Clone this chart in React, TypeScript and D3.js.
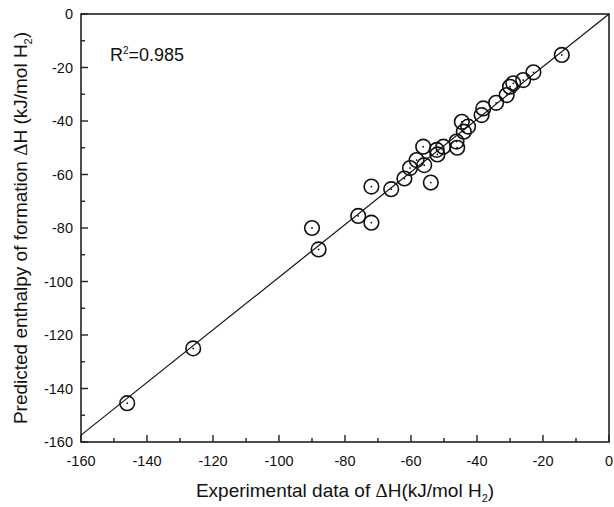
import React from "react";
import * as d3 from "d3";

const expValues = [-146, -126, -90, -88, -76, -72, -72, -66, -62, -60.3, -58.3, -56.3, -56, -54, -52.2, -52, -50.2, -46.2, -46, -44.6, -44, -42.7, -38.6, -38.1, -34.2, -31, -30, -29, -26, -22.9, -14.3];
const predValues = [-145.5, -125, -80, -88, -75.5, -78, -64.5, -65.5, -61.5, -57.6, -54.6, -49.6, -56.5, -63, -50.8, -52.5, -49.6, -47.7, -50, -40.3, -44, -42.1, -37.8, -35.3, -33.2, -30.3, -27.2, -25.9, -24.7, -21.8, -15.3];
const xTicks = [-160, -140, -120, -100, -80, -60, -40, -20, 0];
const yTicks = [0, -20, -40, -60, -80, -100, -120, -140, -160];
const fitSlope = 0.984;
const fitIntercept = 0;
const r2Label = "0.985";

const W = 614, H = 507;
const M = { left: 81, right: 5, top: 14, bottom: 65 };

export default function App() {
  const x = d3.scaleLinear().domain([-160, 0]).range([M.left, W - M.right]);
  const y = d3.scaleLinear().domain([-160, 0]).range([H - M.bottom, M.top]);
  const minorX = d3.range(-150, 0, 20);
  const minorY = d3.range(-150, 0, 20);
  const font = "'Liberation Sans', Arial, sans-serif";
  const x0 = -160, x1 = 0;
  return (
    <svg width={W} height={H} style={{ position: "absolute", left: 0, top: 0, background: "#fff" }} fontFamily={font}>
      <rect x={x(-160)} y={y(0)} width={x(0) - x(-160)} height={y(-160) - y(0)} fill="none" stroke="#222" strokeWidth={1.6} />
      {xTicks.map((t) => (
        <g key={"xt" + t}>
          <line x1={x(t)} x2={x(t)} y1={y(-160)} y2={y(-160) - 7} stroke="#222" strokeWidth={1.4} />
          <text x={x(t)} y={y(-160) + 24} textAnchor="middle" fontSize={14.5} fill="#111">{t}</text>
        </g>
      ))}
      {minorX.map((t) => (
        <line key={"xm" + t} x1={x(t)} x2={x(t)} y1={y(-160)} y2={y(-160) - 4} stroke="#222" strokeWidth={1.4} />
      ))}
      {yTicks.map((t) => (
        <g key={"yt" + t}>
          <line x1={x(-160)} x2={x(-160) + 7} y1={y(t)} y2={y(t)} stroke="#222" strokeWidth={1.4} />
          <text x={x(-160) - 8} y={y(t) + 5} textAnchor="end" fontSize={14.5} fill="#111">{t}</text>
        </g>
      ))}
      {minorY.map((t) => (
        <line key={"ym" + t} x1={x(-160)} x2={x(-160) + 4} y1={y(t)} y2={y(t)} stroke="#222" strokeWidth={1.4} />
      ))}
      <line x1={x(x0)} y1={y(fitSlope * x0 + fitIntercept)} x2={x(x1)} y2={y(fitSlope * x1 + fitIntercept)} stroke="#111" strokeWidth={1.2} />
      {expValues.map((v, i) => (
        <g key={"p" + i}>
          <circle cx={x(v)} cy={y(predValues[i])} r={7.3} fill="none" stroke="#111" strokeWidth={1.6} />
          <circle cx={x(v)} cy={y(predValues[i])} r={0.9} fill="#111" />
        </g>
      ))}
      <text x={110} y={61} fontSize={18} fill="#111">
        R<tspan dy={-7} fontSize={10}>2</tspan><tspan dy={7}>={r2Label}</tspan>
      </text>
      <text x={345} y={497} textAnchor="middle" fontSize={19} fill="#111">
        Experimental data of <tspan fontFamily="'Liberation Serif', serif">Δ</tspan>H(kJ/mol H<tspan dy={5} fontSize={11}>2</tspan><tspan dy={-5}>)</tspan>
      </text>
      <text transform={`translate(27,${(M.top + H - M.bottom) / 2}) rotate(-90)`} textAnchor="middle" fontSize={19} fill="#111">
        Predicted enthalpy of formation <tspan fontFamily="'Liberation Serif', serif">Δ</tspan>H (kJ/mol H<tspan dy={5} fontSize={11}>2</tspan><tspan dy={-5}>)</tspan>
      </text>
    </svg>
  );
}
